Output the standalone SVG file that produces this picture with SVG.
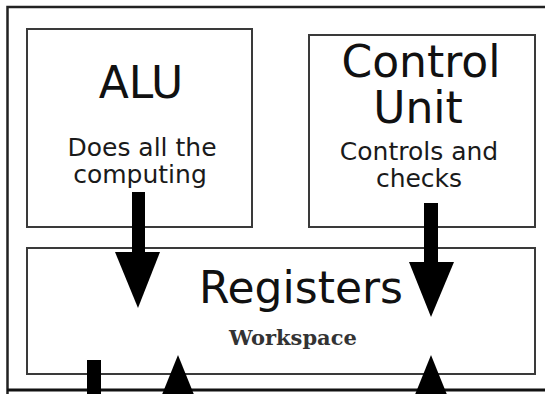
<svg xmlns="http://www.w3.org/2000/svg" width="545" height="394" viewBox="0 0 545 394">
  <style>
    .box { fill: #ffffff; stroke: #3a3a3a; stroke-width: 2; }
    .frame { fill: none; stroke: #222222; stroke-width: 2.5; }
    .title { font-family: "DejaVu Sans", "Liberation Sans", sans-serif; font-size: 44px; fill: #111111; text-anchor: middle; }
    .sub { font-family: "DejaVu Sans", "Liberation Sans", sans-serif; font-size: 25px; fill: #1a1a1a; text-anchor: middle; }
    .serif { font-family: "DejaVu Serif", "Liberation Serif", serif; font-size: 21px; font-weight: bold; fill: #333333; text-anchor: middle; }
    .arrow { fill: #000000; stroke: none; }
  </style>
  <rect x="0" y="0" width="545" height="394" fill="#ffffff"/>
  <g id="cpu-frame">
    <path class="frame" d="M7.5,394 V7 H545"/>
    <path d="M7,390 H545" stroke="#111111" stroke-width="3" fill="none"/>
  </g>
  <g id="alu">
    <rect class="box" x="27" y="29" width="225" height="198"/>
    <text class="title" x="141" y="98">ALU</text>
    <text class="sub" x="142" y="156">Does all the</text>
    <text class="sub" x="140" y="183">computing</text>
  </g>
  <g id="control-unit">
    <rect class="box" x="309" y="35" width="226" height="192"/>
    <text class="title" x="421" y="77">Control</text>
    <text class="title" x="418" y="123">Unit</text>
    <text class="sub" x="419" y="160">Controls and</text>
    <text class="sub" x="419" y="187">checks</text>
  </g>
  <g id="registers">
    <rect class="box" x="27" y="248" width="508" height="126"/>
    <text class="title" x="301" y="303">Registers</text>
    <text class="serif" x="293" y="345">Workspace</text>
  </g>
  <g id="connectors">
    <rect class="arrow" x="132" y="192" width="13" height="61"/>
    <polygon class="arrow" points="115,252 160,252 138,308"/>
    <rect class="arrow" x="424" y="203" width="14" height="60"/>
    <polygon class="arrow" points="409,262 454,262 431,317"/>
    <rect class="arrow" x="87" y="360" width="14" height="34"/>
    <polygon class="arrow" points="178,355 155,412 201,412"/>
    <polygon class="arrow" points="431,355 408,412 454,412"/>
  </g>
</svg>
